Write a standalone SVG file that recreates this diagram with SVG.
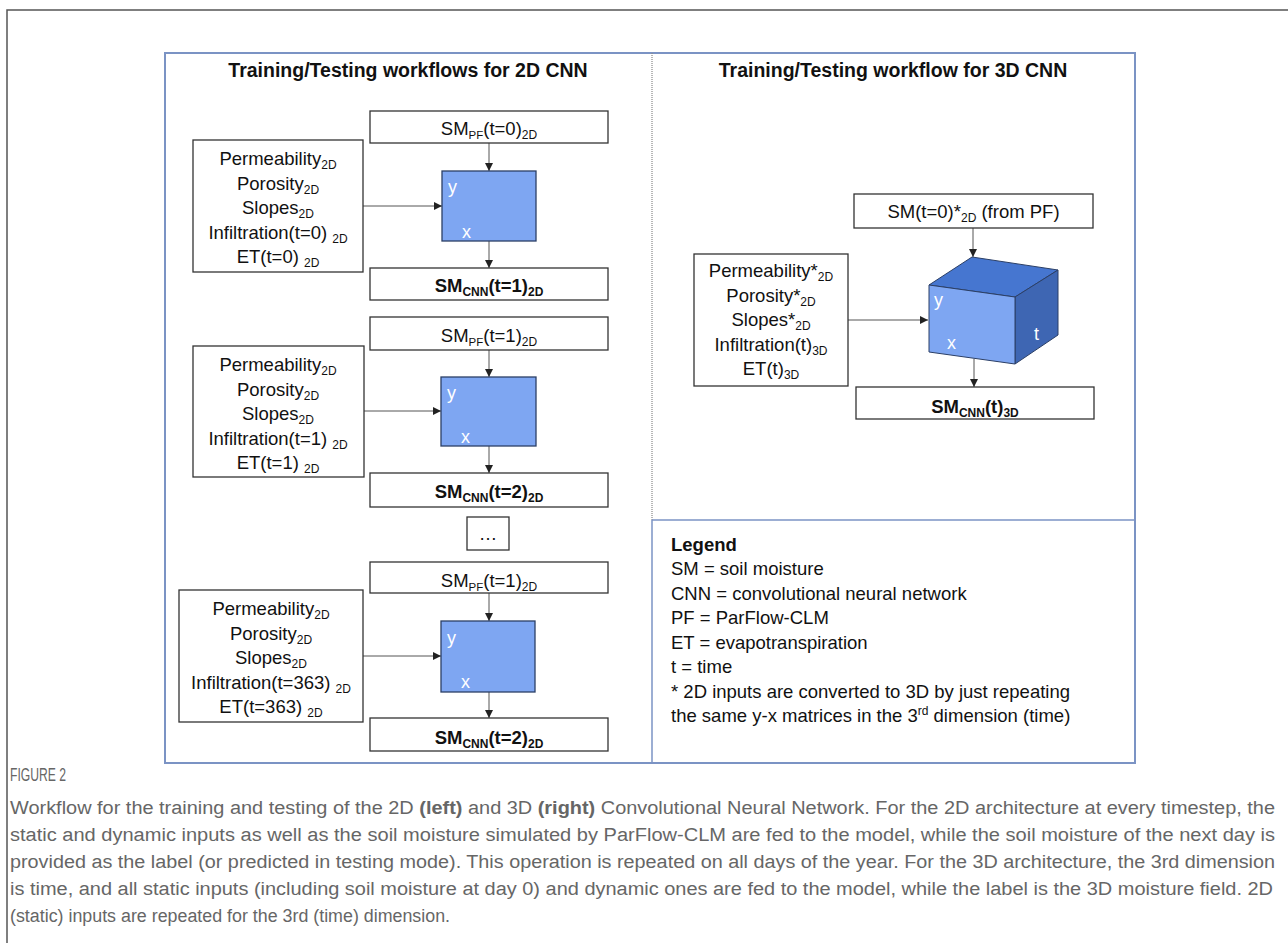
<svg xmlns="http://www.w3.org/2000/svg" width="1288" height="943" viewBox="0 0 1288 943">
<style>
.t{font-family:"Liberation Sans",Arial,sans-serif;font-size:18.5px;fill:#111}
.b{font-weight:bold}
.ttl{font-family:"Liberation Sans",Arial,sans-serif;font-size:19.5px;font-weight:bold;fill:#111}
.box{fill:#fff;stroke:#333;stroke-width:1.3}
.sq{fill:#7ea6f2;stroke:#2b3f66;stroke-width:1.3}
.lbl{font-family:"Liberation Sans",Arial,sans-serif;font-size:18px;fill:#fff}
.con{stroke:#555;stroke-width:1;fill:none;marker-end:url(#ah)}
.cap{font-family:"Liberation Sans",Arial,sans-serif;font-size:18px;fill:#666}
</style>
<defs>
<marker id="ah" viewBox="0 0 8 8" refX="8" refY="4" markerWidth="8" markerHeight="8" markerUnits="userSpaceOnUse" orient="auto"><path d="M0,0 L8,4 L0,8 z" fill="#222"/></marker>
</defs>
<rect width="1288" height="943" fill="#fff"/>
<path d="M7,943 V10 H1288" fill="none" stroke="#555" stroke-width="1.5"/>
<g id="frame">
<rect x="165" y="53" width="970" height="710" fill="none" stroke="#7b93c4" stroke-width="2"/>
<line x1="652" y1="53" x2="652" y2="520" stroke="#888" stroke-width="1.2" stroke-dasharray="1,1"/>
<line x1="652" y1="520" x2="652" y2="763" stroke="#7b93c4" stroke-width="1.5"/>
<line x1="652" y1="520" x2="1135" y2="520" stroke="#7b93c4" stroke-width="1.5"/>
</g>
<text class="ttl" x="408" y="77" text-anchor="middle">Training/Testing workflows for 2D CNN</text>
<text class="ttl" x="893" y="77" text-anchor="middle">Training/Testing workflow for 3D CNN</text>

<g id="connectors">
<line class="con" x1="489" y1="143" x2="489" y2="171"/>
<line class="con" x1="363" y1="206" x2="442" y2="206"/>
<line class="con" x1="489" y1="241" x2="489" y2="268"/>
<line class="con" x1="489" y1="350" x2="489" y2="377"/>
<line class="con" x1="364" y1="411" x2="441" y2="411"/>
<line class="con" x1="489" y1="446" x2="489" y2="473"/>
<line class="con" x1="489" y1="593" x2="489" y2="621"/>
<line class="con" x1="363" y1="656" x2="441" y2="656"/>
<line class="con" x1="489" y1="692" x2="489" y2="718"/>
<line class="con" x1="973" y1="228" x2="973" y2="257"/>
<line class="con" x1="848" y1="320" x2="928" y2="320"/>
<line class="con" x1="974" y1="359" x2="974" y2="387"/>
</g>

<!-- Section 1 -->
<g id="sm_pf_0">
<rect class="box" x="370" y="111" width="238" height="32"/>
<text class="t" x="489" y="135" text-anchor="middle">SM<tspan font-size="11.5" dy="4">PF</tspan><tspan dy="-4">(t=0)</tspan><tspan font-size="12" dy="4">2D</tspan></text>
</g>
<g id="inputs_0">
<rect class="box" x="193" y="140" width="170" height="132"/>
<text class="t" x="278" y="165" text-anchor="middle">Permeability<tspan font-size="12" dy="4">2D</tspan></text>
<text class="t" x="278" y="189.5" text-anchor="middle">Porosity<tspan font-size="12" dy="4">2D</tspan></text>
<text class="t" x="278" y="214" text-anchor="middle">Slopes<tspan font-size="12" dy="4">2D</tspan></text>
<text class="t" x="278" y="238.5" text-anchor="middle">Infiltration(t=0) <tspan font-size="12" dy="4">2D</tspan></text>
<text class="t" x="278" y="263" text-anchor="middle">ET(t=0) <tspan font-size="12" dy="4">2D</tspan></text>
</g>
<g id="cnn2d_0">
<rect class="sq" x="442" y="171" width="94" height="70"/>
<text class="lbl" x="448" y="193">y</text>
<text class="lbl" x="462" y="238">x</text>
</g>
<g id="sm_cnn_1">
<rect class="box" x="370" y="268" width="238" height="32"/>
<text class="t b" x="489" y="292" text-anchor="middle">SM<tspan font-size="12" dy="4">CNN</tspan><tspan dy="-4">(t=1)</tspan><tspan font-size="12" dy="4">2D</tspan></text>
</g>

<!-- Section 2 -->
<g id="sm_pf_1">
<rect class="box" x="370" y="317" width="238" height="33"/>
<text class="t" x="489" y="342" text-anchor="middle">SM<tspan font-size="11.5" dy="4">PF</tspan><tspan dy="-4">(t=1)</tspan><tspan font-size="12" dy="4">2D</tspan></text>
</g>
<g id="inputs_1">
<rect class="box" x="193" y="346" width="171" height="131"/>
<text class="t" x="278" y="371" text-anchor="middle">Permeability<tspan font-size="12" dy="4">2D</tspan></text>
<text class="t" x="278" y="395.5" text-anchor="middle">Porosity<tspan font-size="12" dy="4">2D</tspan></text>
<text class="t" x="278" y="420" text-anchor="middle">Slopes<tspan font-size="12" dy="4">2D</tspan></text>
<text class="t" x="278" y="444.5" text-anchor="middle">Infiltration(t=1) <tspan font-size="12" dy="4">2D</tspan></text>
<text class="t" x="278" y="469" text-anchor="middle">ET(t=1) <tspan font-size="12" dy="4">2D</tspan></text>
</g>
<g id="cnn2d_1">
<rect class="sq" x="441" y="377" width="95" height="69"/>
<text class="lbl" x="447" y="399">y</text>
<text class="lbl" x="461" y="443">x</text>
</g>
<g id="sm_cnn_2a">
<rect class="box" x="370" y="473" width="238" height="34"/>
<text class="t b" x="489" y="498" text-anchor="middle">SM<tspan font-size="12" dy="4">CNN</tspan><tspan dy="-4">(t=2)</tspan><tspan font-size="12" dy="4">2D</tspan></text>
</g>
<g id="ellipsis">
<rect class="box" x="467" y="517" width="42" height="33"/>
<text class="t" x="488" y="540" text-anchor="middle">…</text>
</g>

<!-- Section 3 -->
<g id="sm_pf_363">
<rect class="box" x="370" y="562" width="238" height="31"/>
<text class="t" x="489" y="587" text-anchor="middle">SM<tspan font-size="11.5" dy="4">PF</tspan><tspan dy="-4">(t=1)</tspan><tspan font-size="12" dy="4">2D</tspan></text>
</g>
<g id="inputs_363">
<rect class="box" x="179" y="590" width="184" height="132"/>
<text class="t" x="271" y="615" text-anchor="middle">Permeability<tspan font-size="12" dy="4">2D</tspan></text>
<text class="t" x="271" y="639.5" text-anchor="middle">Porosity<tspan font-size="12" dy="4">2D</tspan></text>
<text class="t" x="271" y="664" text-anchor="middle">Slopes<tspan font-size="12" dy="4">2D</tspan></text>
<text class="t" x="271" y="688.5" text-anchor="middle">Infiltration(t=363) <tspan font-size="12" dy="4">2D</tspan></text>
<text class="t" x="271" y="713" text-anchor="middle">ET(t=363) <tspan font-size="12" dy="4">2D</tspan></text>
</g>
<g id="cnn2d_363">
<rect class="sq" x="441" y="621" width="94" height="71"/>
<text class="lbl" x="447" y="644">y</text>
<text class="lbl" x="461" y="688">x</text>
</g>
<g id="sm_cnn_2b">
<rect class="box" x="370" y="718" width="238" height="33"/>
<text class="t b" x="489" y="744" text-anchor="middle">SM<tspan font-size="12" dy="4">CNN</tspan><tspan dy="-4">(t=2)</tspan><tspan font-size="12" dy="4">2D</tspan></text>
</g>

<!-- 3D -->
<g id="sm_t0_3d">
<rect class="box" x="854" y="194" width="239" height="34"/>
<text class="t" x="973.5" y="218" text-anchor="middle">SM(t=0)*<tspan font-size="12" dy="4">2D</tspan><tspan dy="-4"> (from PF)</tspan></text>
</g>
<g id="inputs_3d">
<rect class="box" x="694" y="254" width="154" height="132"/>
<text class="t" x="771" y="277" text-anchor="middle">Permeability*<tspan font-size="12" dy="4">2D</tspan></text>
<text class="t" x="771" y="301.5" text-anchor="middle">Porosity*<tspan font-size="12" dy="4">2D</tspan></text>
<text class="t" x="771" y="326" text-anchor="middle">Slopes*<tspan font-size="12" dy="4">2D</tspan></text>
<text class="t" x="771" y="350.5" text-anchor="middle">Infiltration(t)<tspan font-size="12" dy="4">3D</tspan></text>
<text class="t" x="771" y="375" text-anchor="middle">ET(t)<tspan font-size="12" dy="4">3D</tspan></text>
</g>
<g id="cnn3d">
<polygon points="929,285 972,257 1058,270 1015,297" fill="#4676d0" stroke="#2b3f66" stroke-width="1"/>
<polygon points="1015,297 1058,270 1058,335 1015,364" fill="#3e66b3" stroke="#2b3f66" stroke-width="1"/>
<polygon points="929,285 1015,297 1015,364 929,352" fill="#7ea6f2" stroke="#2b3f66" stroke-width="1"/>
<text class="lbl" x="934" y="306">y</text>
<text class="lbl" x="947" y="349">x</text>
<text class="lbl" x="1034" y="340">t</text>
</g>
<g id="sm_cnn_3d">
<rect class="box" x="856" y="387" width="238" height="32"/>
<text class="t b" x="975" y="413" text-anchor="middle">SM<tspan font-size="12" dy="4">CNN</tspan><tspan dy="-4">(t)</tspan><tspan font-size="12" dy="4">3D</tspan></text>
</g>

<g id="legend">
<text class="t b" x="671" y="551" font-size="20">Legend</text>
<text class="t" x="671" y="575">SM = soil moisture</text>
<text class="t" x="671" y="600">CNN = convolutional neural network</text>
<text class="t" x="671" y="624">PF = ParFlow-CLM</text>
<text class="t" x="671" y="649">ET = evapotranspiration</text>
<text class="t" x="671" y="673">t = time</text>
<text class="t" x="671" y="698">* 2D inputs are converted to 3D by just repeating</text>
<text class="t" x="671" y="722">the same y-x matrices in the 3<tspan font-size="12" dy="-7">rd</tspan><tspan dy="7"> dimension (time)</tspan></text>
</g>

<g id="caption">
<text class="cap" x="10" y="781" font-size="14.5" textLength="56" lengthAdjust="spacingAndGlyphs">FIGURE 2</text>
<text class="cap" x="10" y="814" textLength="1265" lengthAdjust="spacingAndGlyphs">Workflow for the training and testing of the 2D <tspan font-weight="bold">(left)</tspan> and 3D <tspan font-weight="bold">(right)</tspan> Convolutional Neural Network. For the 2D architecture at every timestep, the</text>
<text class="cap" x="10" y="841" textLength="1265" lengthAdjust="spacingAndGlyphs">static and dynamic inputs as well as the soil moisture simulated by ParFlow-CLM are fed to the model, while the soil moisture of the next day is</text>
<text class="cap" x="10" y="868" textLength="1265" lengthAdjust="spacingAndGlyphs">provided as the label (or predicted in testing mode). This operation is repeated on all days of the year. For the 3D architecture, the 3rd dimension</text>
<text class="cap" x="10" y="895" textLength="1263" lengthAdjust="spacingAndGlyphs">is time, and all static inputs (including soil moisture at day 0) and dynamic ones are fed to the model, while the label is the 3D moisture field. 2D</text>
<text class="cap" x="10" y="922" textLength="440" lengthAdjust="spacingAndGlyphs">(static) inputs are repeated for the 3rd (time) dimension.</text>
</g>
</svg>
